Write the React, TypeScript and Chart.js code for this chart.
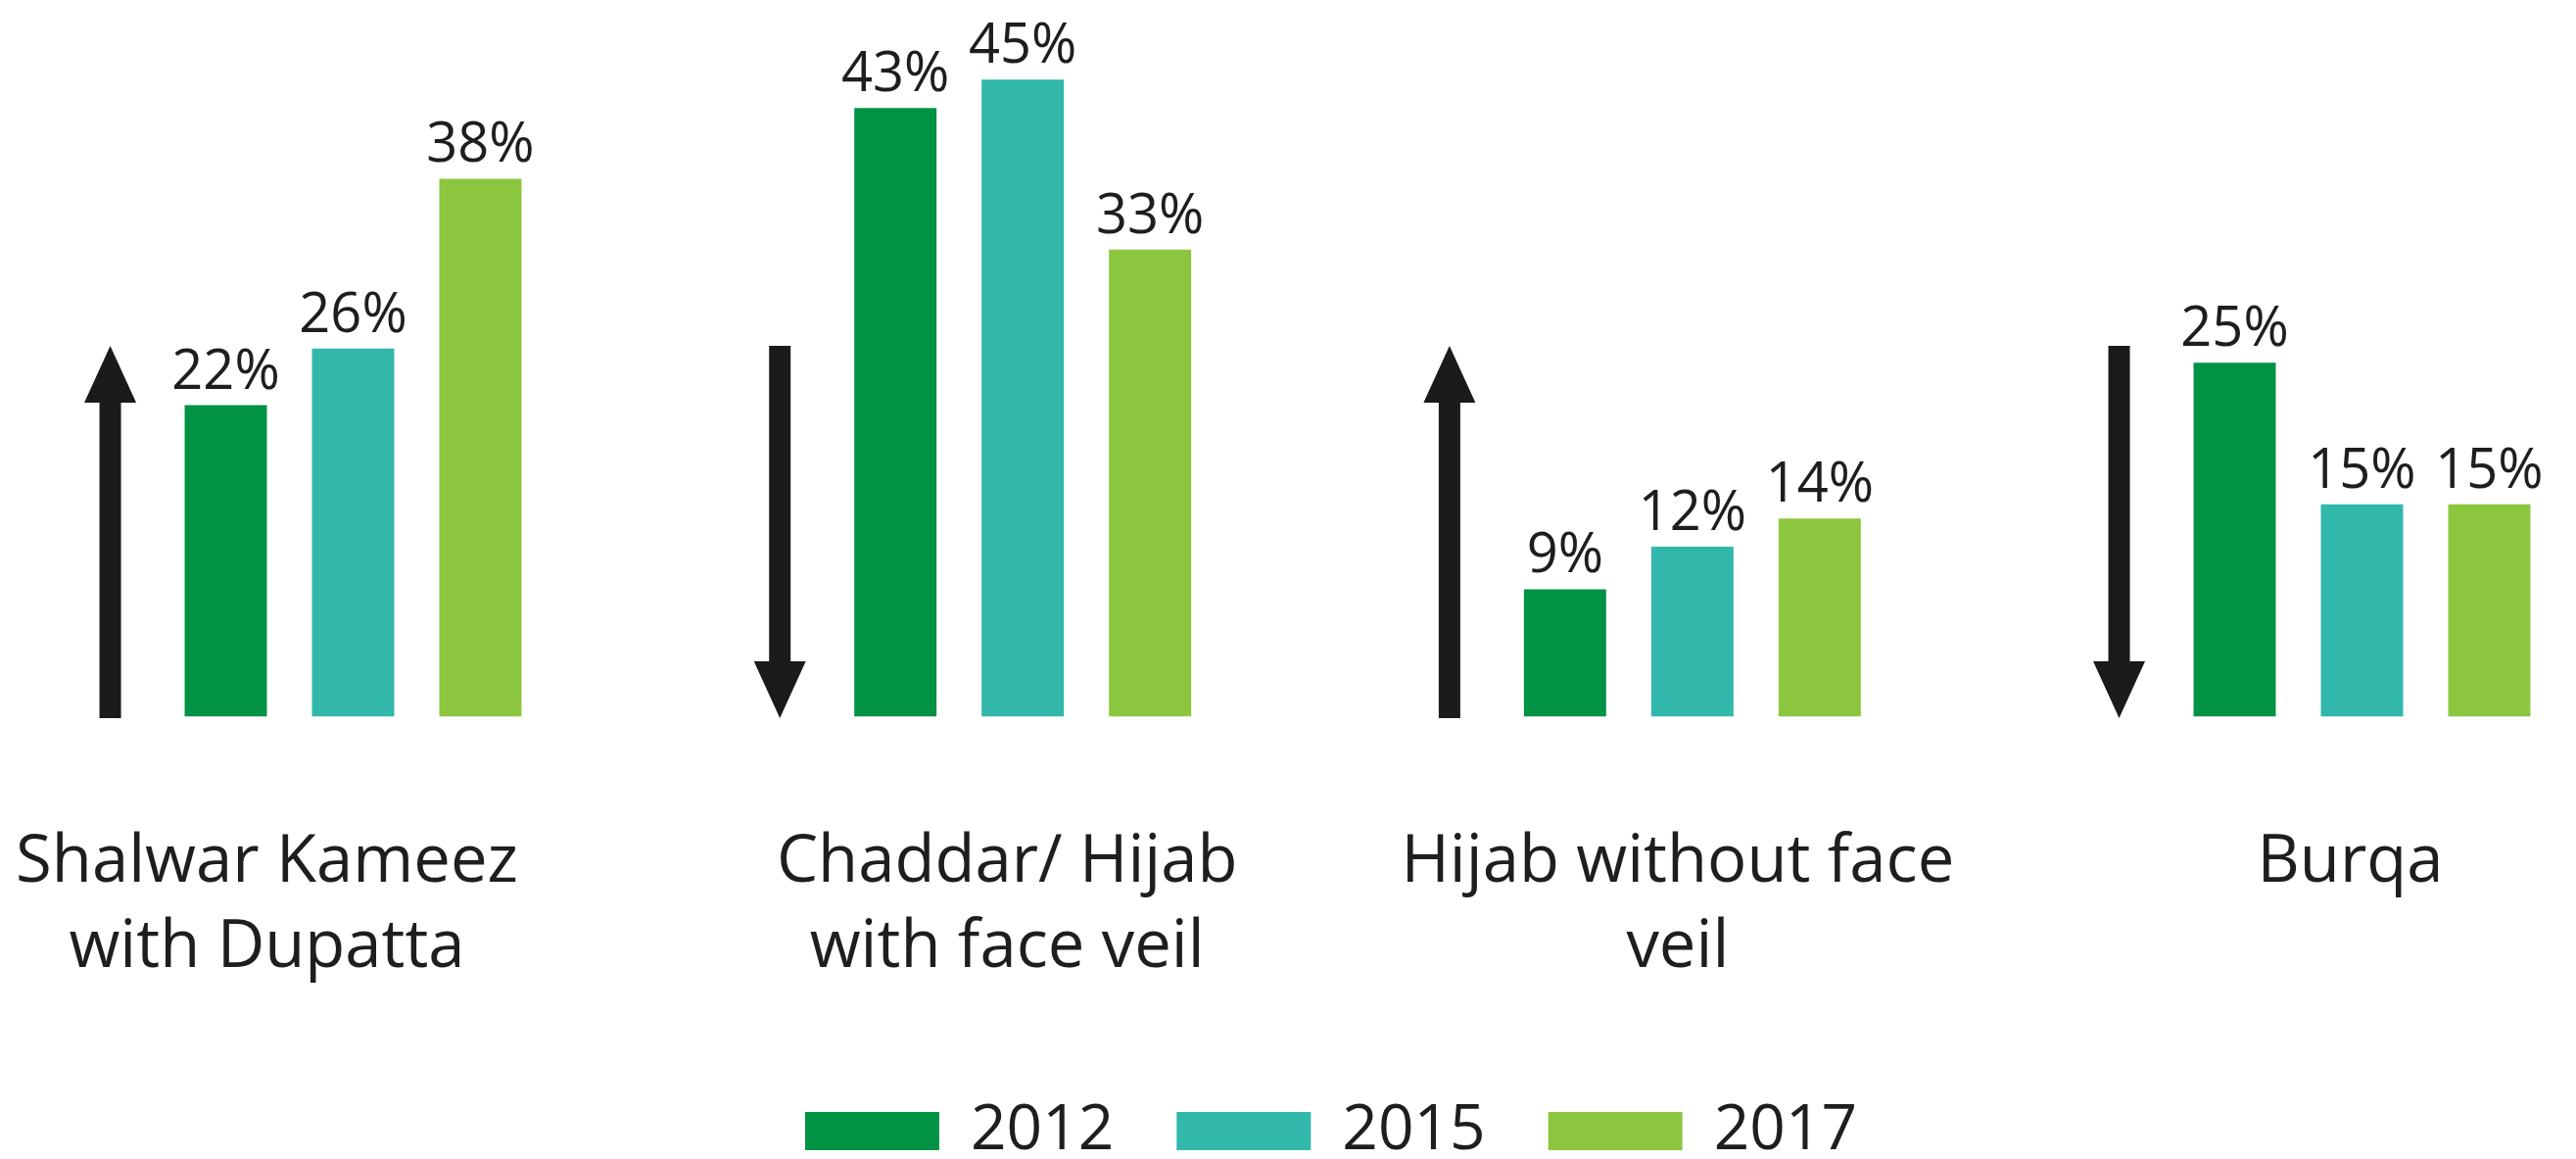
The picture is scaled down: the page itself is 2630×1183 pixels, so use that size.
import React, { useEffect, useRef } from 'react';
import { Chart, registerables } from 'chart.js';

Chart.register(...registerables);

// ---- data ----
const CATEGORIES: string[][] = [
  ['Shalwar Kameez', 'with Dupatta'],
  ['Chaddar/ Hijab', 'with face veil'],
  ['Hijab without face', 'veil'],
  ['Burqa'],
];
const YEARS = ['2012', '2015', '2017'];
const VALUES_2012 = [22, 43, 9, 25];
const VALUES_2015 = [26, 45, 12, 15];
const VALUES_2017 = [38, 33, 14, 15];
const TRENDS = ['up', 'down', 'up', 'down'];

// ---- style ----
const COLORS = ['#009245', '#32b8aa', '#8cc63f'];
const INK = '#1e1e1e';
const ARROW_COLOR = '#1b1b1b';
const FONT = '"Open Sans", "Noto Sans", sans-serif';
const X_MIN = -0.3986;
const X_MAX = 3.3196;
const ARROW_SHIFT = -0.3627; // arrow position relative to a group, in category units
const ARROW_REACH = 26.2; // arrow height, in value units
const LABEL_NUDGE = [-88, -16, -15, -12]; // horizontal text nudge of the category captions (px)

const annotations = {
  id: 'annotations',
  afterDatasetsDraw(chart: any) {
    const ctx: CanvasRenderingContext2D = chart.ctx;
    const xs = chart.scales.x;
    const ys = chart.scales.y;
    ctx.save();

    // value labels
    ctx.font = `56px ${FONT}`;
    ctx.fillStyle = INK;
    ctx.textAlign = 'center';
    ctx.textBaseline = 'alphabetic';
    chart.data.datasets.forEach((ds: any, di: number) => {
      const meta = chart.getDatasetMeta(di);
      meta.data.forEach((bar: any, i: number) => {
        const v = ds.data[i].y;
        ctx.fillText(`${v}%`, bar.x, bar.y - 17);
      });
    });

    // trend arrows
    ctx.fillStyle = ARROW_COLOR;
    const headLen = 58;
    const headHalf = 26.5;
    const shaftHalf = 11;
    TRENDS.forEach((t, i) => {
      const cx = xs.getPixelForValue(i + ARROW_SHIFT);
      const yBottom = ys.getPixelForValue(0) + 1.5;
      const yTop = ys.getPixelForValue(ARROW_REACH);
      ctx.beginPath();
      if (t === 'up') {
        ctx.moveTo(cx, yTop);
        ctx.lineTo(cx + headHalf, yTop + headLen);
        ctx.lineTo(cx + shaftHalf, yTop + headLen);
        ctx.lineTo(cx + shaftHalf, yBottom);
        ctx.lineTo(cx - shaftHalf, yBottom);
        ctx.lineTo(cx - shaftHalf, yTop + headLen);
        ctx.lineTo(cx - headHalf, yTop + headLen);
      } else {
        ctx.moveTo(cx, yBottom);
        ctx.lineTo(cx + headHalf, yBottom - headLen);
        ctx.lineTo(cx + shaftHalf, yBottom - headLen);
        ctx.lineTo(cx + shaftHalf, yTop);
        ctx.lineTo(cx - shaftHalf, yTop);
        ctx.lineTo(cx - shaftHalf, yBottom - headLen);
        ctx.lineTo(cx - headHalf, yBottom - headLen);
      }
      ctx.closePath();
      ctx.fill();
    });

    // category captions
    ctx.font = `67px ${FONT}`;
    ctx.fillStyle = INK;
    ctx.textAlign = 'center';
    ctx.textBaseline = 'alphabetic';
    const margin = 10;
    CATEGORIES.forEach((lines, i) => {
      const w = Math.max(...lines.map((l) => ctx.measureText(l).width));
      let cx = xs.getPixelForValue(i) + (LABEL_NUDGE[i] || 0);
      cx = Math.max(cx, margin + w / 2);
      cx = Math.min(cx, chart.width - margin - w / 2);
      lines.forEach((line, li) => {
        ctx.fillText(line, cx, xs.top + 168.5 + li * 87);
      });
    });

    ctx.restore();
  },
};

export default function App() {
  const ref = useRef<HTMLCanvasElement>(null);

  useEffect(() => {
    const series = [VALUES_2012, VALUES_2015, VALUES_2017];
    const chart = new Chart(ref.current as HTMLCanvasElement, {
      type: 'bar',
      data: {
        datasets: series.map((vals, k) => ({
          label: YEARS[k],
          data: vals.map((v, i) => ({ x: i, y: v })),
          backgroundColor: COLORS[k],
          borderWidth: 0,
          categoryPercentage: 0.5704,
          barPercentage: 0.646,
        })),
      },
      options: {
        responsive: false,
        animation: false,
        events: [],
        layout: { padding: { top: 9, left: 88, right: 0, bottom: 0 } },
        scales: {
          x: {
            type: 'linear',
            offset: false,
            bounds: 'data',
            min: X_MIN,
            max: X_MAX,
            grid: { display: false, drawTicks: false, offset: false },
            border: { display: false },
            ticks: { display: false },
            afterBuildTicks: (s: any) => {
              s.ticks = CATEGORIES.map((_, i) => ({ value: i }));
            },
            afterFit: (s: any) => {
              s.height = 327;
            },
          },
          y: {
            display: false,
            min: 0,
            max: 50,
          },
        },
        plugins: {
          tooltip: { enabled: false },
          legend: {
            position: 'bottom',
            align: 'center',
            maxHeight: 124.5,
            labels: {
              boxWidth: 137,
              boxHeight: 39,
              padding: 64,
              color: INK,
              font: { family: FONT, size: 64 },
            },
          },
        },
      } as any,
      plugins: [annotations],
    });
    return () => chart.destroy();
  }, []);

  return (
    <div style={{ position: 'absolute', left: 0, top: 0, width: 2630, height: 1183, background: '#ffffff' }}>
      <canvas ref={ref} width={2630} height={1183} style={{ display: 'block', width: 2630, height: 1183 }} />
    </div>
  );
}
